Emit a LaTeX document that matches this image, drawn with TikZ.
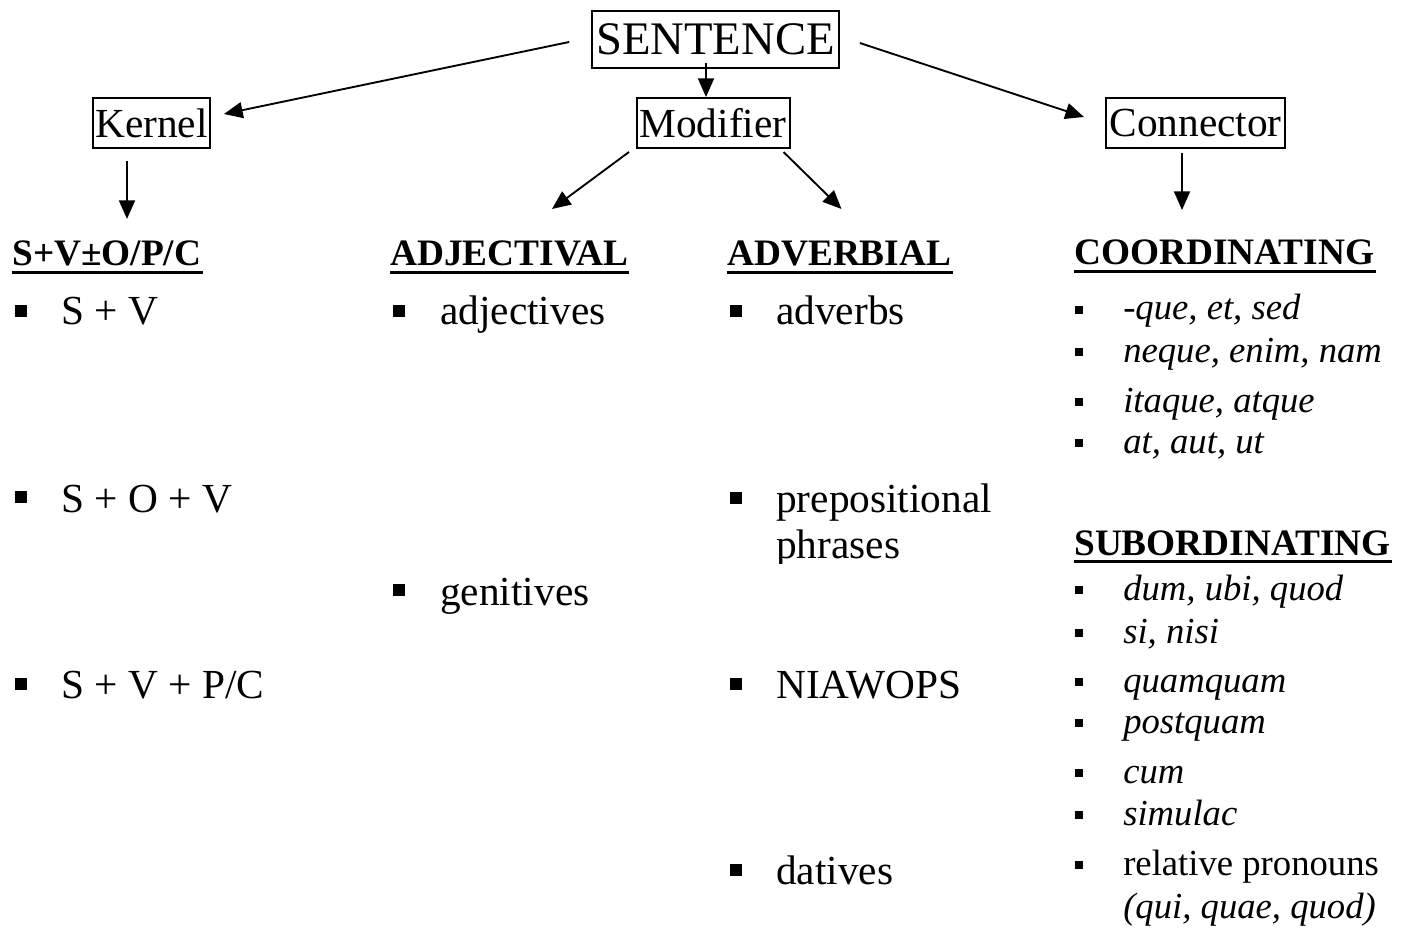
\documentclass[tikz,border=0pt]{standalone}
\usepackage{fontspec}
\setmainfont{Liberation Serif}
\usetikzlibrary{arrows.meta,calc}
\begin{document}
\begin{tikzpicture}[x=0.75pt,y=-0.75pt,
  box/.style={draw, line width=1.5pt, inner sep=0pt, minimum height=37.5pt, font=\fontsize{31}{36}\selectfont},
  arr/.style={-{Triangle[length=14pt,width=12pt]}, line width=1.4pt},
  hd/.style={anchor=base west, inner sep=0pt, font=\fontsize{28}{32}\selectfont\bfseries},
  txt/.style={anchor=base west, inner sep=0pt, font=\fontsize{31}{36}\selectfont},
  rit/.style={anchor=base west, inner sep=0pt, font=\fontsize{27.5}{32}\selectfont\itshape},
  rrm/.style={anchor=base west, inner sep=0pt, font=\fontsize{27.5}{32}\selectfont},
  bul/.style={fill, inner sep=0pt, minimum size=8.5pt},
  sbul/.style={fill, inner sep=0pt, minimum size=6pt},
  ulin/.style={line width=2.4pt}]
\useasboundingbox (0,0) rectangle (1408,930);

% boxes
\node[box, minimum width=185pt, minimum height=43pt, font=\fontsize{35}{40}\selectfont] (S) at (715.5,39.5) {SENTENCE};
\node[box, minimum width=87.75pt] (K) at (151.5,123) {Kernel};
\node[box, minimum width=114.75pt] (M) at (713,123) {Modifier};
\node[box, minimum width=134.25pt] (C) at (1195.5,123) {Connector};

% arrows
\draw[arr] ($(S.west)+(-22,2.5)$) -- ($(K.east)+(13,-9)$);
\draw[arr] ($(S.south)+(-9.5,-6)$) -- ($(M.north)+(-7,0)$);
\draw[arr] ($(S.east)+(20,3.5)$) -- ($(C.west)+(-21,-6)$);
\draw[arr] ($(K.south)+(-24.5,12)$) -- ($(K.south)+(-24.5,70)$);
\draw[arr] ($(M.south west)+(-6.5,3)$) -- ($(M.south west)+(-83.5,60)$);
\draw[arr] ($(M.south east)+(-7,3)$) -- ($(M.south east)+(51,60)$);
\draw[arr] ($(C.south)+(-13.5,4)$) -- ($(C.south)+(-13.5,61)$);

% headers
\node[hd] (h1) at (12,266) {S+V±O/P/C};
\node[hd] (h2) at (390,266) {ADJECTIVAL};
\node[hd] (h3) at (727,266) {ADVERBIAL};
\node[hd] (h4) at (1074,265) {COORDINATING};
\node[hd] (h5) at (1074,555) {SUBORDINATING};
\foreach \h in {h1,h2,h3,h4,h5}
  \draw[ulin] ($(\h.base west)+(0,6.5)$) -- ($(\h.base east)+(1,6.5)$);

% kernel column
\node[bul] (b11) at (21,311) {}; \node[txt] (t11) at (61,325) {S + V};
\node[bul] (b12) at (21,497) {}; \node[txt] (t12) at (61,512) {S + O + V};
\node[bul] (b13) at (21,684) {}; \node[txt] (t13) at (61,698) {S + V + P/C};

% adjectival column
\node[bul] (b21) at (399,311) {}; \node[txt] (t21) at (440,325) {adjectives};
\node[bul] (b22) at (399,590) {}; \node[txt] (t22) at (440,605) {genitives};

% adverbial column
\node[bul] (b31) at (736,311) {}; \node[txt] (t31) at (776,325) {adverbs};
\node[bul] (b32) at (736,498) {}; \node[txt] (t32) at (776,512) {prepositional};
\begin{scope}
\clip (760,520) rectangle (1010,563);
\node[txt] (t33) at (776,558) {phrases};
\end{scope}
\node[bul] (b34) at (736,684) {}; \node[txt] (t34) at (776,698) {NIAWOPS};
\node[bul] (b35) at (736,870) {}; \node[txt] (t35) at (776,884) {datives};

% connector column
\node[sbul] (c1) at (1079,310) {}; \node[rit] (u1) at (1123,320) {-que, et, sed};
\node[sbul] (c2) at (1079,352) {}; \node[rit] (u2) at (1123,362) {neque, enim, nam};
\node[sbul] (c3) at (1079,402) {}; \node[rit] (u3) at (1123,412) {itaque, atque};
\node[sbul] (c4) at (1079,443) {}; \node[rit] (u4) at (1123,453) {at, aut, ut};

\node[sbul] (d1) at (1079,590) {}; \node[rit] (v1) at (1123,600) {dum, ubi, quod};
\node[sbul] (d2) at (1079,633) {}; \node[rit] (v2) at (1123,643) {si, nisi};
\node[sbul] (d3) at (1079,682) {}; \node[rit] (v3) at (1123,692) {quamquam};
\node[sbul] (d4) at (1079,723) {}; \node[rit] (v4) at (1123,733) {postquam};
\node[sbul] (d5) at (1079,773) {}; \node[rit] (v5) at (1123,783) {cum};
\node[sbul] (d6) at (1079,815) {}; \node[rit] (v6) at (1123,825) {simulac};
\node[sbul] (d7) at (1079,865) {}; \node[rrm] (v7) at (1123,875) {relative pronouns};
\node[rit] (v8) at (1123,918) {(qui, quae, quod)};
\end{tikzpicture}
\end{document}
